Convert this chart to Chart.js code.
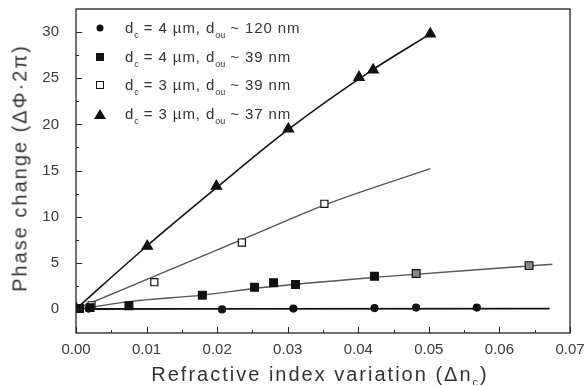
<!DOCTYPE html>
<html>
<head>
<meta charset="utf-8">
<script src="https://cdn.jsdelivr.net/npm/chart.js@4.4.0/dist/chart.umd.min.js"></script>
<style>
html, body { margin: 0; padding: 0; background: #fff; }
#wrap { position: relative; width: 586px; height: 385px; font-family: Arial, "Liberation Sans", sans-serif; color: #333; }
#wrap canvas { position: absolute; left: 0; top: 0; }
.legend { position: absolute; left: 94px; top: 18px; font-size: 15px; letter-spacing: 0.9px; }
.legend .row { height: 28.7px; line-height: 20px; white-space: nowrap; position: relative; }
.legend .mk { position: absolute; left: 6px; top: 10px; transform: translate(-50%, -50%); }
.legend .txt { position: absolute; left: 31px; top: 0; }
.legend sub { font-size: 9px; vertical-align: -5px; letter-spacing: 0; }
.dot { width: 7px; height: 7px; border-radius: 50%; background: #111; }
.sq { width: 8px; height: 8px; background: #111; }
.osq { width: 6px; height: 6px; border: 1.3px solid #111; background: #fff; }
.tri { width: 0; height: 0; border-left: 6px solid transparent; border-right: 6px solid transparent; border-bottom: 10px solid #111; }
.xtitle { position: absolute; left: 320px; top: 375px; transform: translate(-50%, -50%); font-size: 20px; letter-spacing: 2px; white-space: nowrap; }
.xtitle sub { font-size: 11px; vertical-align: -5px; }
.ytitle { position: absolute; left: 20px; top: 168px; transform: translate(-50%, -50%) rotate(-90deg); font-size: 20px; letter-spacing: 2px; white-space: nowrap; }
</style>
</head>
<body>
<div id="wrap">
  <canvas id="myChart" width="586" height="385"></canvas>
  <div class="legend">
    <div class="row"><span class="mk dot"></span><span class="txt">d<sub>c</sub> = 4 µm, d<sub>ou</sub> ~ 120 nm</span></div>
    <div class="row"><span class="mk sq"></span><span class="txt">d<sub>c</sub> = 4 µm, d<sub>ou</sub> ~ 39 nm</span></div>
    <div class="row"><span class="mk osq"></span><span class="txt">d<sub>c</sub> = 3 µm, d<sub>ou</sub> ~ 39 nm</span></div>
    <div class="row"><span class="mk tri"></span><span class="txt">d<sub>c</sub> = 3 µm, d<sub>ou</sub> ~ 37 nm</span></div>
  </div>
  <div class="ytitle">Phase change (ΔΦ·2π)</div>
  <div class="xtitle">Refractive index variation (Δn<sub>c</sub>)</div>
</div>
<script>
// measured points
var circX = [0, 0.0018, 0.0207, 0.0308, 0.0423, 0.0482, 0.0568];
var circY = [0, 0.05, -0.05, 0.05, 0.1, 0.15, 0.15];

var sqX = [0.0005, 0.002, 0.0075, 0.0179, 0.0253, 0.0280, 0.0311, 0.0423, 0.0482, 0.0642];
var sqY = [0.05, 0.15, 0.35, 1.5, 2.35, 2.85, 2.65, 3.55, 3.85, 4.7];

var osqX = [0.0005, 0.0022, 0.0111, 0.0235, 0.0352];
var osqY = [0.1, 0.4, 2.9, 7.2, 11.4];

var triX = [0, 0.0101, 0.0199, 0.0301, 0.0401, 0.0421, 0.0502];
var triY = [0.1, 6.8, 13.3, 19.5, 25.1, 25.9, 29.8];

// fitted curves
var circFitX = [0.0027, 0.0671];
var circFitY = [0, 0.05];
var sqFitX = [0.001, 0.0075, 0.0179, 0.0261, 0.0427, 0.0675];
var sqFitY = [0.05, 0.8, 1.5, 2.3, 3.45, 4.85];
var osqFitX = [0, 0.0261, 0.035, 0.0502];
var osqFitY = [0, 8.35, 11.2, 15.2];
var triFitX = [0, 0.01, 0.02, 0.03, 0.042, 0.0502];
var triFitY = [0, 6.8, 13.2, 19.4, 25.9, 29.8];

var xTicks = [0, 0.01, 0.02, 0.03, 0.04, 0.05, 0.06, 0.07];
var yTicks = [0, 5, 10, 15, 20, 25, 30];

function pts(xs, ys) {
  var out = [];
  for (var i = 0; i < xs.length; i++) out.push({x: xs[i], y: ys[i]});
  return out;
}

function fitLine(xs, ys, color, width) {
  return {
    type: 'line', data: pts(xs, ys), borderColor: color, borderWidth: width,
    pointRadius: 0, fill: false, cubicInterpolationMode: 'monotone', order: 2
  };
}

function markers(xs, ys, style, radius, bg) {
  return {
    type: 'scatter', data: pts(xs, ys), pointStyle: style, pointRadius: radius,
    pointBackgroundColor: bg, pointBorderColor: '#111', pointBorderWidth: 1.2,
    showLine: false, order: 1
  };
}

var sqBg = sqX.map(function (v, i) { return i >= 8 ? '#888' : '#111'; });

// frame and inward tick marks
var framePlugin = {
  id: 'frame',
  afterDraw: function (chart) {
    var ctx = chart.ctx, a = chart.chartArea;
    var xs = chart.scales.x, ys = chart.scales.y;
    ctx.save();
    ctx.strokeStyle = '#222';
    ctx.lineWidth = 1.3;
    ctx.strokeRect(a.left, a.top, a.right - a.left, a.bottom - a.top);
    ctx.lineWidth = 1;
    ctx.beginPath();
    for (var v = 0; v <= 0.0701; v += 0.005) {
      var px = Math.round(xs.getPixelForValue(v)) + 0.5;
      var len = Math.abs(v / 0.01 - Math.round(v / 0.01)) < 0.01 ? 6 : 3;
      ctx.moveTo(px, a.bottom); ctx.lineTo(px, a.bottom - len);
    }
    for (var w = 0; w <= 30.01; w += 2.5) {
      var py = Math.round(ys.getPixelForValue(w)) + 0.5;
      var l2 = w % 5 === 0 ? 6 : 3;
      ctx.moveTo(a.left, py); ctx.lineTo(a.left + l2, py);
    }
    ctx.stroke();
    ctx.restore();
  }
};

// invisible tick marks push the labels away without adding scale padding
var hiddenGrid = function (len) {
  return { display: true, drawOnChartArea: false, drawTicks: true, tickLength: len, tickColor: 'rgba(0,0,0,0)' };
};

new Chart(document.getElementById('myChart').getContext('2d'), {
  type: 'scatter',
  data: {
    datasets: [
      fitLine(circFitX, circFitY, '#111', 1.8),
      fitLine(sqFitX, sqFitY, '#555', 1.4),
      fitLine(osqFitX, osqFitY, '#555', 1.4),
      fitLine(triFitX, triFitY, '#111', 1.6),
      markers(circX, circY, 'circle', 3.5, '#111'),
      markers(sqX, sqY, 'rect', 5.5, sqBg),
      markers(osqX, osqY, 'rect', 5, '#fff'),
      markers(triX, triY, 'triangle', 6, '#111')
    ]
  },
  options: {
    responsive: false,
    animation: false,
    layout: { padding: { top: 9, right: 16, left: 0, bottom: 0 } },
    plugins: { legend: { display: false }, tooltip: { enabled: false } },
    scales: {
      x: {
        type: 'linear', min: 0, max: 0.07,
        afterBuildTicks: function (s) { s.ticks = xTicks.map(function (v) { return {value: v}; }); },
        afterFit: function (s) { s.height = 52; },
        grid: hiddenGrid(8),
        border: { display: false },
        ticks: {
          padding: 0, color: '#3a3a3a', maxRotation: 0,
          font: { family: 'Arial, "Liberation Sans"', size: 15 },
          callback: function (v) { return Number(v).toFixed(2); }
        }
      },
      y: {
        type: 'linear', min: -2.6, max: 32.5,
        afterBuildTicks: function (s) { s.ticks = yTicks.map(function (v) { return {value: v}; }); },
        afterFit: function (s) { s.width = 76; },
        grid: hiddenGrid(17),
        border: { display: false },
        ticks: {
          padding: 0, color: '#3a3a3a',
          font: { family: 'Arial, "Liberation Sans"', size: 15 }
        }
      }
    }
  },
  plugins: [framePlugin]
});
</script>
</body>
</html>
